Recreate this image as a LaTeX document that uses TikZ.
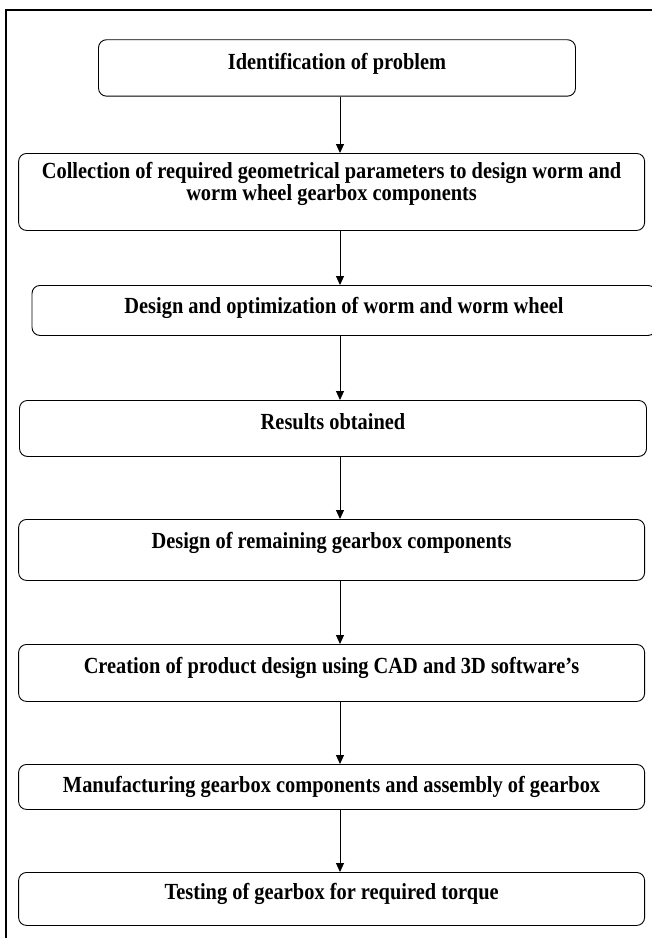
\documentclass[tikz,border=0pt]{standalone}
\usepackage{fontspec}
\setmainfont{Liberation Serif}
\usepackage{tikz}
\usetikzlibrary{arrows.meta}
\newcommand{\tall}[1]{\scalebox{1}[1.13]{#1}}
\tikzset{
  stage/.style={draw, line width=0.9pt, rounded corners=8pt, anchor=north,
    inner xsep=0pt, inner ysep=0pt, font=\fontsize{20.4}{20.7}\selectfont\bfseries},
  flow/.style={line width=1pt, -{Triangle[length=9pt,width=8pt]}}
}

\begin{document}
\begin{tikzpicture}[x=1pt,y=-1pt]
    \useasboundingbox (0,0) rectangle (652,938);
    \draw[line width=1.6pt] (6,938) -- (6,10) -- (652,10);

    \coordinate (spine) at (340,0);

    \node[stage, minimum width=477pt, text height=29.7pt, text depth=26.7pt] at (337,39.3) (b1){\tall{Identification of problem}};
    \node[stage, minimum width=626pt, text height=24.7pt, text depth=52.3pt] at (331.6,153) (b2){\begin{tabular}[t]{@{}c@{}}\tall{Collection of required geometrical parameters to design worm and}\\\tall{worm wheel gearbox components}\end{tabular}};
    \node[stage, minimum width=624pt, text height=27.7pt, text depth=22.3pt] at (344,285) (b3){\tall{Design and optimization of worm and worm wheel}};
    \node[stage, minimum width=627pt, text height=29pt, text depth=27pt] at (333,400) (b4){\tall{Results obtained}};
    \node[stage, minimum width=626pt, text height=29.3pt, text depth=31.7pt] at (331.6,519) (b5){\tall{Design of remaining gearbox components}};
    \node[stage, minimum width=626pt, text height=29.3pt, text depth=27.7pt] at (331.6,644) (b6){\tall{Creation of product design using CAD and 3D software’s}};
    \node[stage, minimum width=626pt, text height=28.3pt, text depth=16.7pt] at (331.6,764) (b7){\tall{Manufacturing gearbox components and assembly of gearbox}};
    \node[stage, minimum width=626pt, text height=27pt, text depth=26pt] at (331.6,872) (b8){\tall{Testing of gearbox for required torque}};

    \draw[flow] (b1.south -| spine) -- (b2.north -| spine);
    \draw[flow] (b2.south -| spine) -- (b3.north -| spine);
    \draw[flow] (b3.south -| spine) -- (b4.north -| spine);
    \draw[flow] (b4.south -| spine) -- (b5.north -| spine);
    \draw[flow] (b5.south -| spine) -- (b6.north -| spine);
    \draw[flow] (b6.south -| spine) -- (b7.north -| spine);
    \draw[flow] (b7.south -| spine) -- (b8.north -| spine);
\end{tikzpicture}
\end{document}
